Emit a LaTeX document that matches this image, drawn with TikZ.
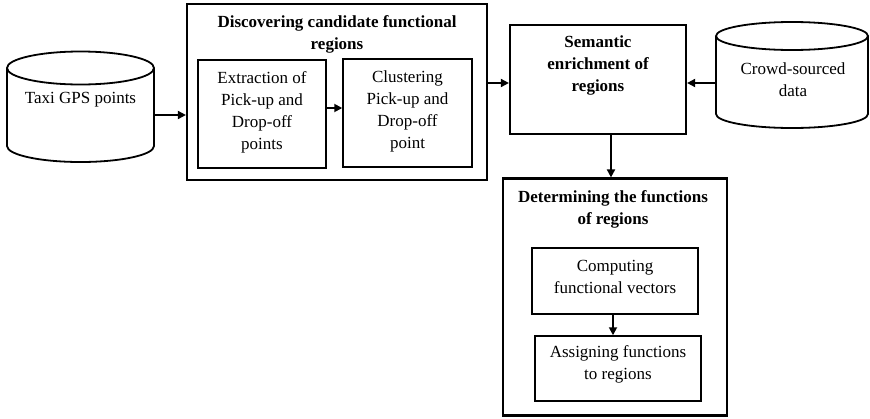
\documentclass[tikz,border=0pt]{standalone}
\usepackage{fontspec}
\setmainfont{Liberation Serif}
\usetikzlibrary{arrows.meta,calc}
\begin{document}
\begin{tikzpicture}[x=1pt,y=-1pt,
  outer/.style={draw,line width=2.2pt,inner sep=0pt},
  inner/.style={draw,line width=1.5pt,inner sep=0pt},
  lbl/.style={align=center,font=\fontsize{17}{22}\selectfont,inner sep=0pt},
  title/.style={lbl,font=\fontsize{17}{22}\selectfont\bfseries},
  arr/.style={line width=1.8pt,-{Triangle[length=8pt,width=8pt]}},
  cyl/.style={line width=1.8pt}]
\useasboundingbox (0,0) rectangle (870,418);

% data stores drawn as cylinders
\draw[cyl] (7,68) -- (7,146) arc[start angle=180,end angle=0,x radius=73.5,y radius=16] -- (154,68);
\draw[cyl] (80.5,68) ellipse[x radius=73.5,y radius=16.5];
\node[lbl] (taxi) at (80.5,100) {Taxi GPS points};
\coordinate (taxiR) at (154,115);

\draw[cyl] (716,36) -- (716,114) arc[start angle=180,end angle=0,x radius=76,y radius=14] -- (868,36);
\draw[cyl] (792,36) ellipse[x radius=76,y radius=14];
\node[lbl] (crowd) at (793,80) {Crowd-sourced\\data};
\coordinate (crowdL) at (716,83);

% discovering candidate regions
\node[outer,minimum width=300,minimum height=176] (disc) at (337,92) {};
\node[title] (discT) at (337,34) {Discovering candidate functional\\regions};
\node[inner,minimum width=128,minimum height=108] (ext) at (262,114) {};
\node[lbl] at (262,112) {Extraction of\\Pick-up and\\Drop-off\\points};
\node[inner,minimum width=129,minimum height=108] (clu) at (407.5,113) {};
\node[lbl] at (407.5,111) {Clustering\\Pick-up and\\Drop-off\\point};

% semantic enrichment
\node[outer,minimum width=176,minimum height=109] (sem) at (598,79.5) {};
\node[title] at (598,65.5) {Semantic\\enrichment of\\regions};

% determining functions
\node[outer,minimum width=224,minimum height=237] (det) at (615,297) {};
\node[title] at (613,209) {Determining the functions\\of regions};
\node[inner,minimum width=166,minimum height=66] (comp) at (615,281) {};
\node[lbl] at (615,277) {Computing\\functional vectors};
\node[inner,minimum width=166,minimum height=65] (asg) at (618,368.5) {};
\node[lbl] at (618,364) {Assigning functions\\to regions};

% connectors
\draw[arr] (taxiR) -- (taxiR -| disc.west);
\draw[arr] ([yshift=6pt]ext.east) -- ([yshift=6pt]ext.east -| clu.west);
\draw[arr] ([yshift=9pt]disc.east) -- ([yshift=9pt]disc.east -| sem.west);
\draw[arr] (crowdL) -- (crowdL -| sem.east);
\draw[arr] ([xshift=13pt]sem.south) -- ([xshift=13pt]sem.south |- det.north);
\draw[arr] ([xshift=-2pt]comp.south) -- ([xshift=-2pt]comp.south |- asg.north);
\end{tikzpicture}
\end{document}
